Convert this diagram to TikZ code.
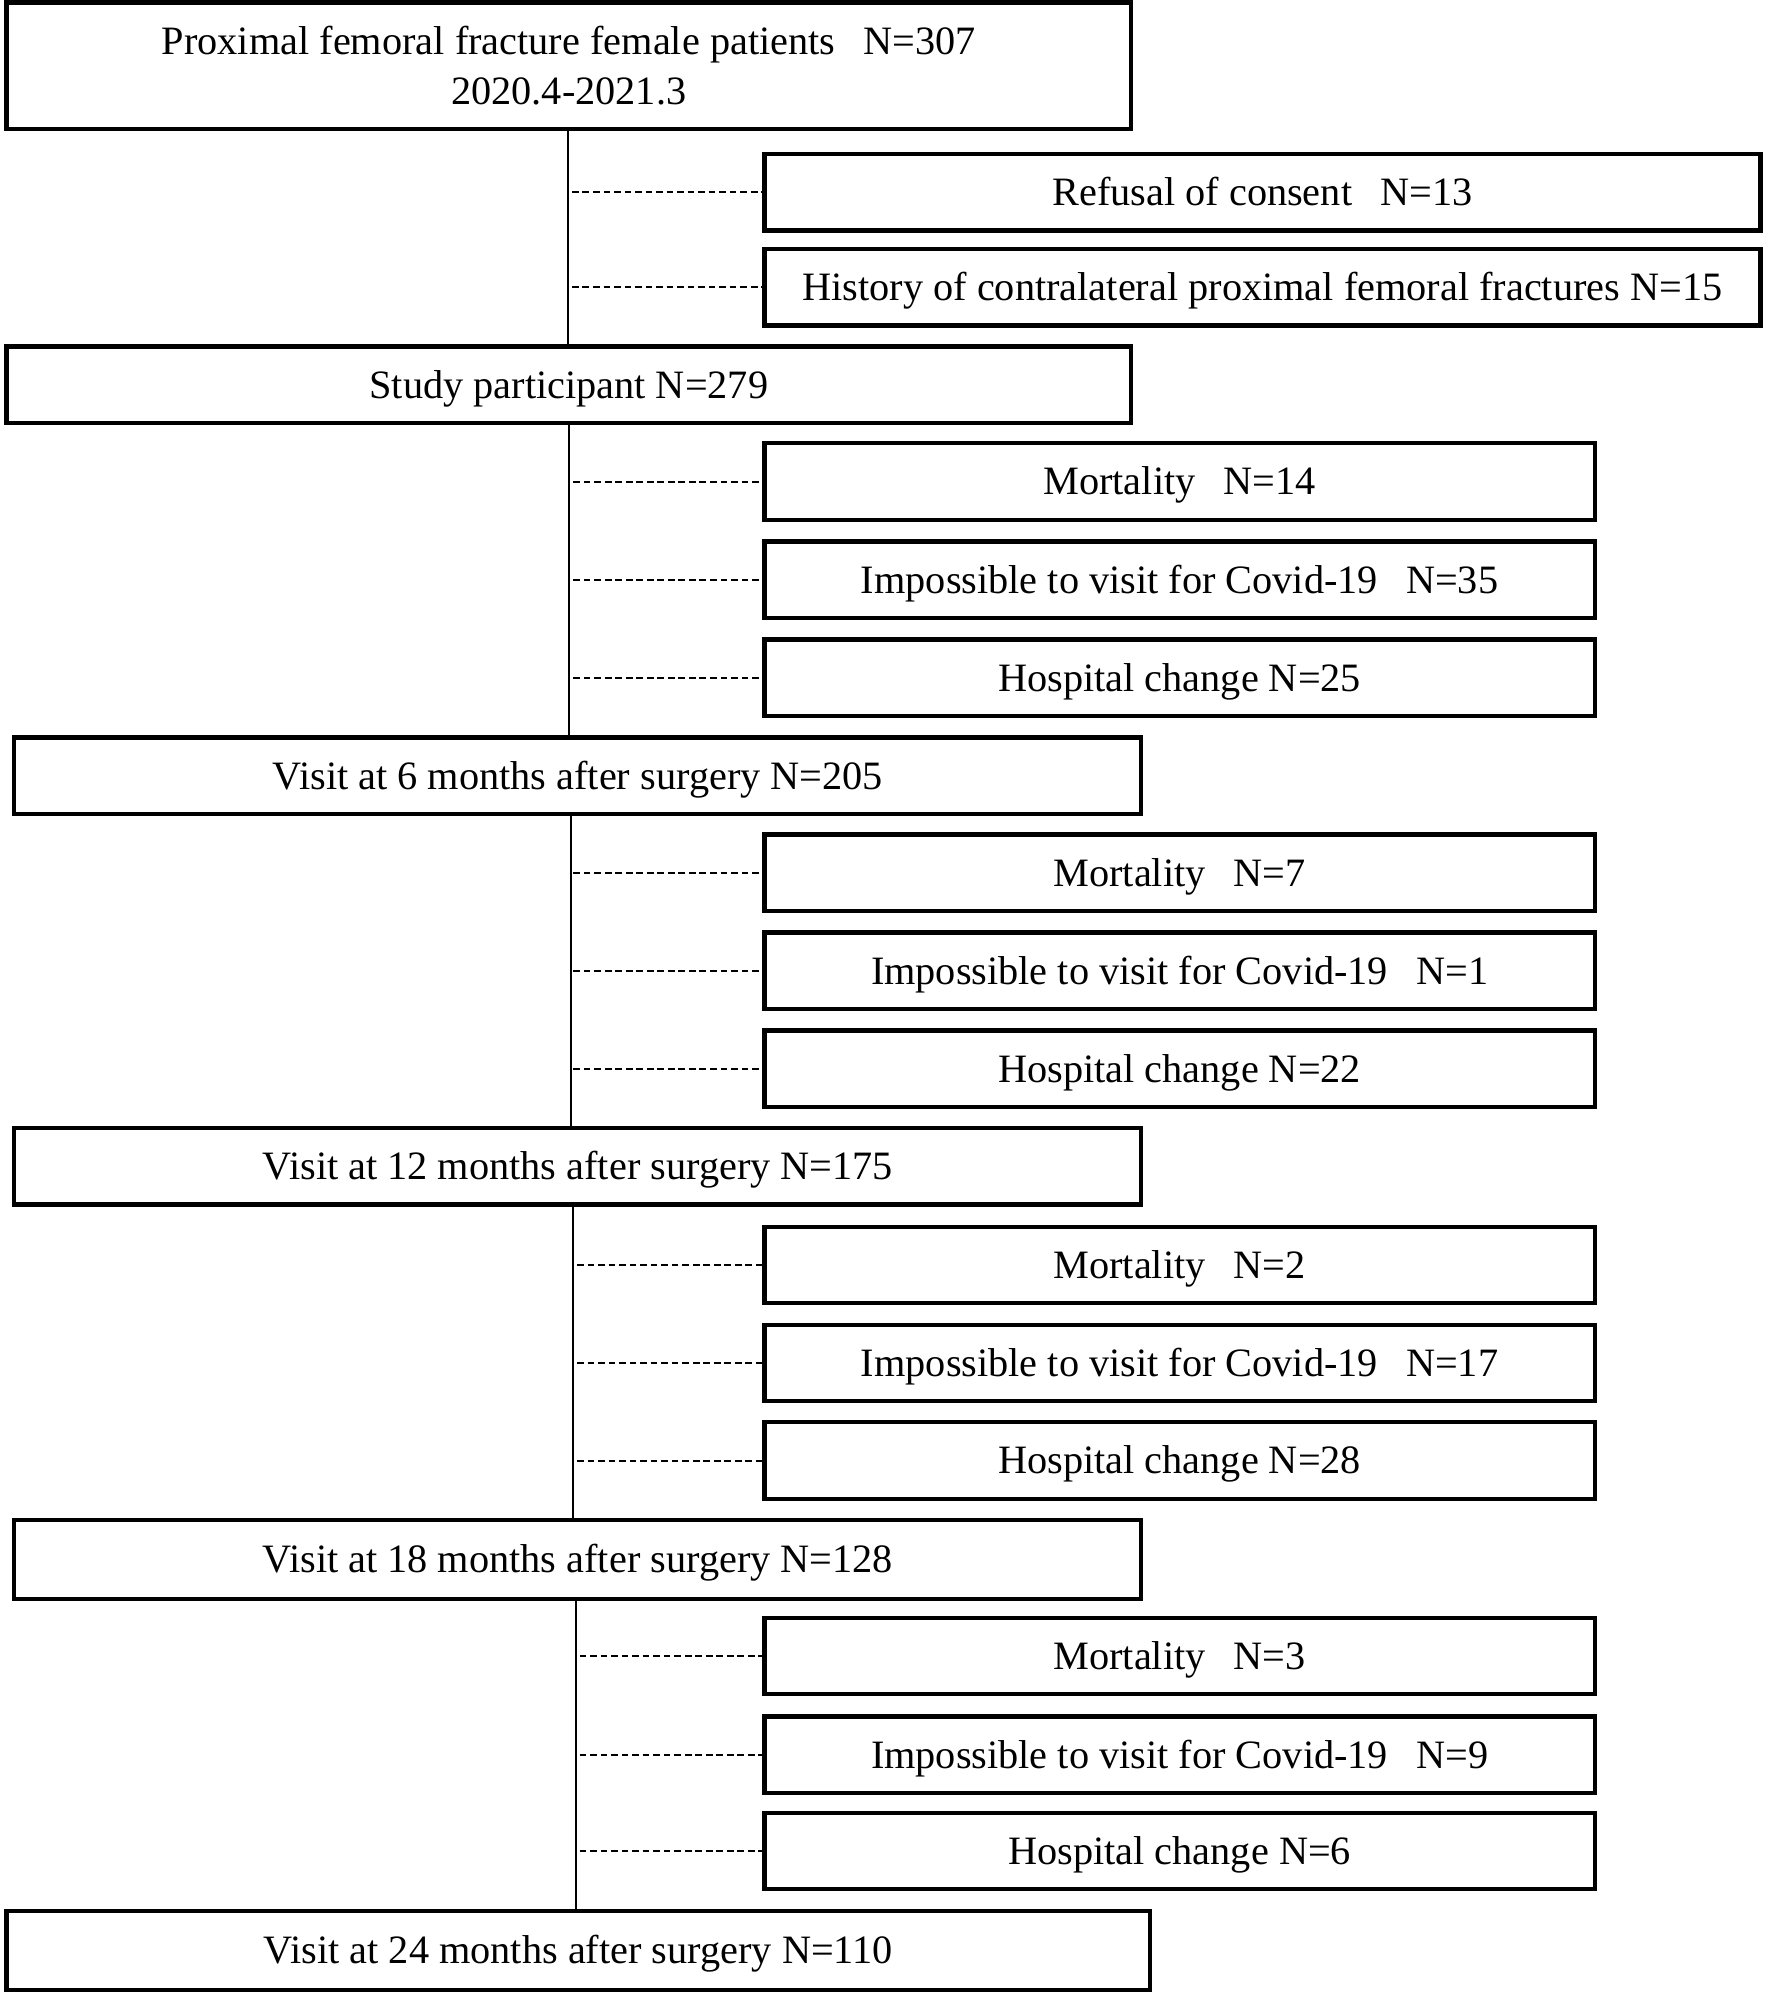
\documentclass[tikz,border=0pt]{standalone}
\usepackage{fontspec}
\setmainfont{Liberation Serif}
\begin{document}
\begin{tikzpicture}[x=0.02cm,y=-0.02cm,
  box/.style={draw=black,line width=1.9pt,rectangle,inner sep=0pt,align=center,
    font=\fontsize{18}{22}\selectfont,minimum height=1.2cm},
  onebox/.style={box,text height=16pt,text depth=4pt},
  mainbox/.style={onebox,minimum width=17.7cm},
  widebox/.style={onebox,minimum width=15.64cm},
  sidebox/.style={onebox,minimum width=13.04cm},
  spine/.style={line width=0.9pt},
  excl/.style={line width=0.9pt,dash pattern=on 3pt off 1.7pt}]
\useasboundingbox (0,0) rectangle (1390,1570);
\newcommand{\gap}{\hspace{0.45em} }
% main flow boxes
\node[box,minimum width=17.66cm,minimum height=1.98cm] (top) at (446.5,51.5)
  {Proximal femoral fracture female patients\gap N=307\\2020.4-2021.3};
\node[mainbox,minimum width=17.66cm] (study) at (446.5,302) {Study participant N=279};
\node[mainbox] (v6) at (453.5,609) {Visit at 6 months after surgery N=205};
\node[mainbox] (v12) at (453.5,915.5) {Visit at 12 months after surgery N=175};
\node[mainbox,minimum height=1.24cm] (v18) at (453.5,1224) {Visit at 18 months after surgery N=128};
\node[mainbox,minimum width=17.96cm,minimum height=1.24cm] (v24) at (454,1531) {Visit at 24 months after surgery N=110};
% exclusion boxes
\node[widebox] (refusal) at (991,151) {Refusal of consent\gap N=13};
\node[widebox] (history) at (991,225.5) {History of contralateral proximal femoral fractures N=15};
\node[sidebox] (m14) at (926,378) {Mortality\gap N=14};
\node[sidebox] (i35) at (926,455) {Impossible to visit for Covid-19\gap N=35};
\node[sidebox] (h25) at (926,532) {Hospital change N=25};
\node[sidebox] (m7) at (926,685) {Mortality\gap N=7};
\node[sidebox] (i1) at (926,762) {Impossible to visit for Covid-19\gap N=1};
\node[sidebox] (h22) at (926,839) {Hospital change N=22};
\node[sidebox] (m2) at (926,993) {Mortality\gap N=2};
\node[sidebox] (i17) at (926,1070) {Impossible to visit for Covid-19\gap N=17};
\node[sidebox] (h28) at (926,1146.5) {Hospital change N=28};
\node[sidebox] (m3) at (926,1300) {Mortality\gap N=3};
\node[sidebox] (i9) at (926,1377.5) {Impossible to visit for Covid-19\gap N=9};
\node[sidebox] (h6) at (926,1453) {Hospital change N=6};
% spine coordinates
\coordinate (s1) at (446,0);
\coordinate (s2) at (447,0);
\coordinate (s3) at (448,0);
\coordinate (s4) at (450,0);
\coordinate (s5) at (452,0);
\coordinate (d1) at (449,0);
\coordinate (d2) at (450,0);
\coordinate (d3) at (450,0);
\coordinate (d4) at (453,0);
\coordinate (d5) at (455,0);
% spines
\draw[spine] (top.south -| s1) -- (study.north -| s1);
\draw[spine] (study.south -| s2) -- (v6.north -| s2);
\draw[spine] (v6.south -| s3) -- (v12.north -| s3);
\draw[spine] (v12.south -| s4) -- (v18.north -| s4);
\draw[spine] (v18.south -| s5) -- (v24.north -| s5);
% exclusion connectors
\foreach \b in {refusal,history} \draw[excl] (\b.west -| d1) -- (\b.west);
\foreach \b in {m14,i35,h25} \draw[excl] (\b.west -| d2) -- (\b.west);
\foreach \b in {m7,i1,h22} \draw[excl] (\b.west -| d3) -- (\b.west);
\foreach \b in {m2,i17,h28} \draw[excl] (\b.west -| d4) -- (\b.west);
\foreach \b in {m3,i9,h6} \draw[excl] (\b.west -| d5) -- (\b.west);
\end{tikzpicture}
\end{document}
